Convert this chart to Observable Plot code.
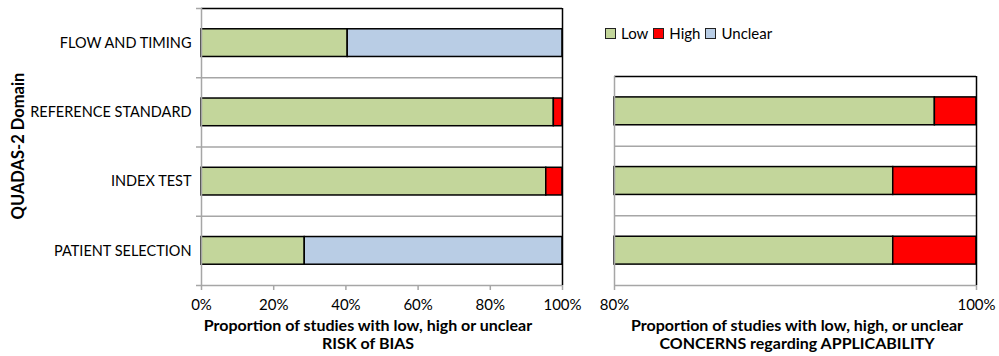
<!DOCTYPE html>
<html><head><meta charset="utf-8">
<script src="https://cdn.jsdelivr.net/npm/d3@7"></script>
<script src="https://cdn.jsdelivr.net/npm/@observablehq/plot@0.6"></script>
<style>
body{margin:0;background:#fff;font-family:Lato, sans-serif;color:#000;}
#wrap{position:relative;width:999px;height:356px;overflow:hidden;background:#fff;}
#wrap svg{position:absolute;top:0;overflow:visible;}
.t{position:absolute;font-weight:bold;font-size:16px;color:#000;text-align:center;line-height:18px;white-space:nowrap;}
#ytitle{position:absolute;font-weight:bold;font-size:16.5px;white-space:nowrap;left:18px;top:146px;transform:translate(-50%,-50%) rotate(-90deg);}
#legend{position:absolute;left:605px;top:24px;font-size:15px;display:flex;align-items:center;white-space:nowrap;}
#legend span.sw{display:inline-block;width:9px;height:9px;border:1px solid #222;margin-right:5px;}
#legend span.lb{margin-right:5px;}
</style></head><body><div id="wrap"></div>
<script>
const domains = ["FLOW AND TIMING", "REFERENCE STANDARD", "INDEX TEST", "PATIENT SELECTION"];
const levels = ["Low", "High", "Unclear"];
const levelColors = ["#C3D69B", "#FF0000", "#B9CDE5"];
// Risk of bias (proportion of studies)
const biasLow = [0.405, 0.976, 0.955, 0.286];
const biasHigh = [0, 0.024, 0.045, 0];
const biasUnclear = [0.595, 0, 0, 0.714];
// Applicability concerns
const applDomains = ["REFERENCE STANDARD", "INDEX TEST", "PATIENT SELECTION"];
const applLow = [0.977, 0.954, 0.954];
const applHigh = [0.023, 0.046, 0.046];
const applUnclear = [0, 0, 0];
const biasTicks = [0, 0.2, 0.4, 0.6, 0.8, 1];
const applTicks = [0.8, 1];

function rows(cats, low, high, unclear) {
  const out = [];
  cats.forEach((c, i) => {
    let acc = 0;
    [low[i], high[i], unclear[i]].forEach((v, k) => {
      if (v > 0) out.push({cat: c, i, level: levels[k], x1: acc, x2: acc + v});
      acc += v;
    });
  });
  return out;
}

const wrap = document.getElementById("wrap");
const gray = "#a6a6a6";
const pct = d3.format(".0%");

function panel({cats, data, xDomain, ticks, width, marginLeft, marginRight, marginTop, marginBottom, yLabels, yTicks}) {
  const n = cats.length;
  const idx = d3.range(n);
  const bounds = d3.range(n + 1);
  const marks = [
    Plot.ruleY(bounds.slice(1, n), {stroke: gray, strokeWidth: 1.5}),
    Plot.rect(data, {
      x1: "x1", x2: "x2",
      y1: d => d.i + 0.3, y2: d => d.i + 0.7,
      fill: "level", stroke: "#000", strokeWidth: 1.5
    }),
    Plot.ruleY([0], {stroke: "#000", strokeWidth: 1.5}),
    Plot.ruleX([xDomain[0]], {stroke: gray, strokeWidth: 1.5}),
    Plot.ruleY([n], {stroke: gray, strokeWidth: 1.5}),
    Plot.ruleX([xDomain[1]], {stroke: "#000", strokeWidth: 1.5}),
    Plot.axisX(ticks, {tickFormat: pct, tickSize: 5, tickPadding: 9, stroke: gray, strokeWidth: 1.5, fontSize: 15, label: null})
  ];
  if (yLabels) {
    marks.push(Plot.axisY(idx.map(i => i + 0.5), {tickFormat: d => cats[Math.floor(d)], tickSize: 0, tickPadding: 10, fontSize: 14.5, label: null}));
  } else {
    marks.push(Plot.axisY([], {label: null}));
  }
  if (yTicks) {
    marks.push(Plot.axisY(bounds, {tickFormat: () => "", tickSize: 5, stroke: gray, strokeWidth: 1.5, label: null}));
  }
  return Plot.plot({
    width, height: 356,
    marginLeft, marginRight, marginTop, marginBottom,
    style: {fontFamily: "Lato, sans-serif", color: "#000", background: "transparent", overflow: "visible"},
    x: {domain: xDomain, clamp: true, axis: null},
    y: {domain: [0, n], reverse: true, axis: null},
    color: {domain: levels, range: levelColors},
    marks
  });
}

const left = panel({
  cats: domains, data: rows(domains, biasLow, biasHigh, biasUnclear),
  xDomain: [0, 1], ticks: biasTicks,
  width: 580, marginLeft: 201, marginRight: 18, marginTop: 8, marginBottom: 71,
  yLabels: true, yTicks: true
});
left.style.left = "0px";
wrap.appendChild(left);

const right = panel({
  cats: applDomains, data: rows(applDomains, applLow, applHigh, applUnclear),
  xDomain: [0.8, 1], ticks: applTicks,
  width: 419, marginLeft: 34, marginRight: 23, marginTop: 76, marginBottom: 71,
  yLabels: false, yTicks: false
});
right.style.left = "580px";
wrap.appendChild(right);

function addText(html, x, y, cls, id) {
  const d = document.createElement("div");
  if (cls) d.className = cls;
  if (id) d.id = id;
  d.innerHTML = html;
  if (x != null) { d.style.left = x + "px"; d.style.top = y + "px"; d.style.transform = "translateX(-50%)"; }
  wrap.appendChild(d);
  return d;
}
addText("Proportion of studies with low, high or unclear<br>RISK of BIAS", 368, 316, "t");
addText("Proportion of studies with low, high, or unclear<br>CONCERNS regarding APPLICABILITY", 797, 316, "t");
addText("QUADAS-2 Domain", null, null, null, "ytitle");

const leg = document.createElement("div");
leg.id = "legend";
levels.forEach((l, k) => {
  const s = document.createElement("span"); s.className = "sw"; s.style.background = levelColors[k];
  const t = document.createElement("span"); t.className = "lb"; t.textContent = l;
  leg.appendChild(s); leg.appendChild(t);
});
wrap.appendChild(leg);
</script>
</body></html>
